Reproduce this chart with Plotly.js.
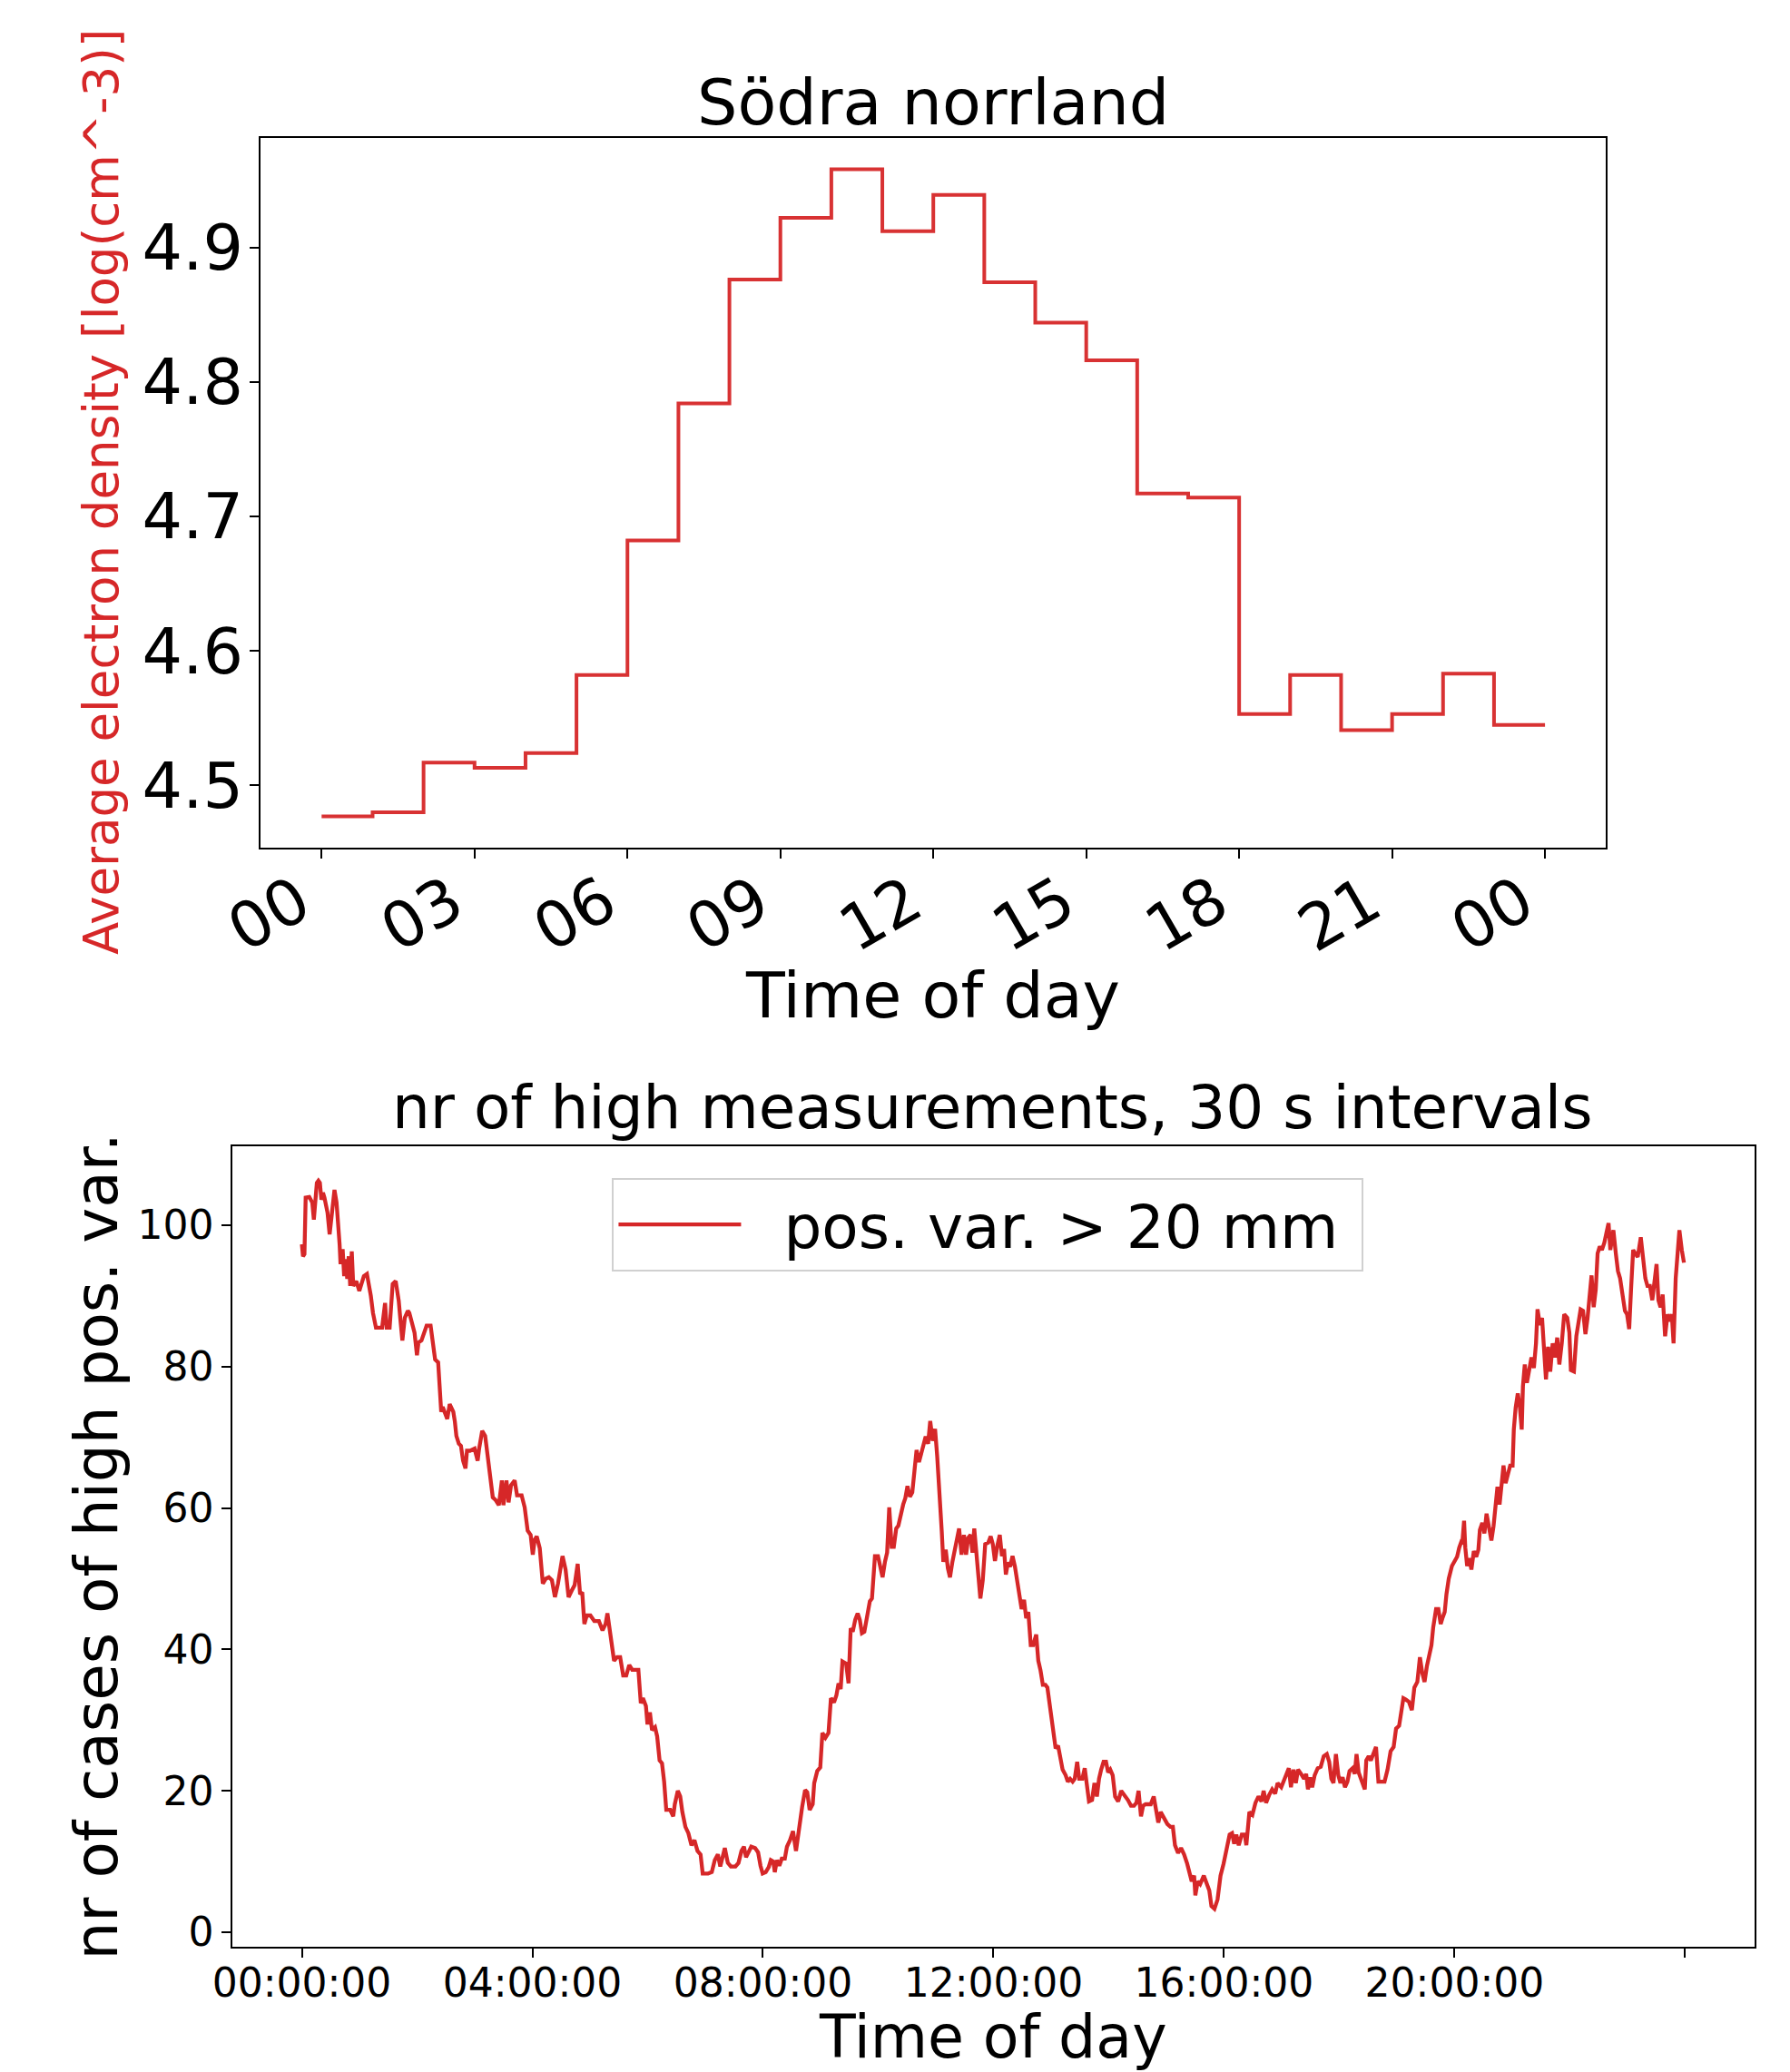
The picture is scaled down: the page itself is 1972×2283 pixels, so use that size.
<!DOCTYPE html>
<html><head><meta charset="utf-8">
<script src="https://cdn.plot.ly/plotly-3.0.1.min.js"></script>
<style>html,body{margin:0;padding:0;background:#fff}</style>
</head><body>
<div id="chart" style="width:1972px;height:2283px"></div>
<script>
// ---- Top panel: hourly average electron density ----
const densityHours = [0,1,2,3,4,5,6,7,8,9,10,11,12,13,14,15,16,17,18,19,20,21,22,23];
const densityValues = [4.477,4.480,4.517,4.513,4.524,4.582,4.682,4.784,4.876,4.922,4.958,4.912,4.939,4.874,4.844,4.816,4.717,4.714,4.553,4.582,4.541,4.553,4.583,4.545];
const densityDayEnd = 24;
const topTickVals = [0,3,6,9,12,15,18,21,24];
const topTickText = ['00','03','06','09','12','15','18','21','00'];
const topYTicks = [4.5,4.6,4.7,4.8,4.9];

// ---- Bottom panel: nr of high position-variance cases (time in hours) ----
const countTimes = [
0.000,0.020,0.045,0.066,0.129,0.181,0.208,0.234,0.260,0.287,0.313,0.339,0.366,0.392,0.418,0.445,0.482,0.513,0.566,0.602,
0.629,0.655,0.671,0.708,0.734,0.760,0.787,0.813,0.839,0.866,0.892,0.944,0.997,1.023,1.076,1.129,1.165,1.197,1.234,1.286,
1.339,1.392,1.444,1.471,1.523,1.576,1.628,1.681,1.707,1.744,1.786,1.839,1.865,1.918,1.955,1.997,2.023,2.076,2.129,2.165,
2.234,2.286,2.312,2.365,2.392,2.418,2.444,2.497,2.523,2.565,2.628,2.655,2.681,2.723,2.760,2.797,2.839,2.865,2.918,2.997,
3.050,3.076,3.129,3.181,3.234,3.271,3.313,3.365,3.418,3.471,3.497,3.550,3.587,3.629,3.692,3.734,3.813,3.866,
3.918,3.970,4.007,4.039,4.075,4.128,4.181,4.233,4.286,4.339,4.391,4.444,4.523,4.576,4.628,4.681,4.733,4.786,4.828,4.865,
4.902,4.944,5.007,5.075,5.154,5.217,5.270,5.302,5.338,5.375,5.417,5.470,5.523,5.576,5.628,5.681,5.733,5.839,5.881,5.918,
5.970,5.997,6.039,6.075,6.128,6.165,6.207,6.249,6.286,6.323,6.392,6.444,6.471,6.523,6.565,6.602,6.655,6.707,6.760,6.812,
6.865,6.918,6.955,7.049,7.113,7.165,7.218,7.260,7.302,7.339,7.391,7.444,7.523,7.576,7.628,7.671,7.707,7.760,7.797,7.865,
7.916,7.958,7.995,8.048,8.100,8.137,8.179,8.206,8.243,8.285,8.327,8.380,8.417,8.469,8.522,8.574,8.627,8.680,8.732,8.769,
8.811,8.864,8.890,8.943,8.995,9.032,9.085,9.138,9.180,9.233,9.275,9.312,9.349,9.380,9.444,9.486,9.523,9.559,9.602,9.644,
9.681,9.718,9.760,9.813,9.855,9.892,9.944,9.997,10.039,10.076,10.118,10.155,10.192,10.234,10.271,10.313,10.350,10.392,10.434,10.471,
10.508,10.550,10.592,10.629,10.666,10.708,10.750,10.787,10.824,10.866,10.903,10.945,10.987,11.024,11.050,11.077,11.103,11.130,11.172,11.209,
11.246,11.288,11.330,11.367,11.404,11.446,11.488,11.525,11.562,11.604,11.636,11.667,11.699,11.736,11.773,11.815,11.857,
11.910,11.952,11.989,12.026,12.068,12.110,12.147,12.184,12.215,12.252,12.289,12.331,12.373,12.410,12.447,12.489,12.531,12.568,12.605,12.647,
12.689,12.742,12.778,12.815,12.857,12.900,12.936,12.963,13.005,13.042,13.079,13.121,13.163,13.200,13.253,13.290,13.331,13.374,13.410,13.453,
13.489,13.542,13.584,13.621,13.658,13.711,13.753,13.795,13.832,13.869,13.911,13.953,13.990,14.027,14.069,14.111,14.164,14.217,14.254,14.291,
14.333,14.386,14.439,14.481,14.518,14.560,14.597,14.639,14.729,14.781,14.818,14.860,14.902,14.955,15.018,15.071,15.113,15.150,15.203,15.255,
15.308,15.361,15.398,15.440,15.482,15.503,15.545,15.587,15.650,15.693,15.745,15.782,15.835,
15.888,15.940,15.993,16.046,16.098,16.140,16.177,16.214,16.256,16.309,16.362,16.388,16.441,16.493,16.546,16.599,16.651,16.688,16.730,16.783,
16.836,16.888,16.930,16.994,17.036,17.088,17.125,17.162,17.204,17.247,17.284,17.336,17.389,17.426,17.457,17.494,17.531,17.573,17.626,17.679,
17.731,17.784,17.826,17.863,17.900,17.942,17.984,18.021,18.058,18.100,18.142,18.179,18.232,18.269,18.300,18.337,18.390,18.443,18.469,18.511,
18.548,18.601,18.638,18.680,18.786,18.838,18.891,18.944,18.986,19.039,19.076,19.113,19.155,19.208,19.260,19.303,19.355,
19.400,19.440,19.480,19.520,19.560,19.600,19.630,19.680,19.720,19.760,19.790,19.830,19.860,19.900,
19.955,19.992,20.045,20.082,20.113,20.134,20.166,20.187,20.219,20.256,20.293,20.335,20.377,20.414,20.440,20.482,20.519,20.556,20.598,20.640,
20.677,20.714,20.745,20.782,20.819,20.850,20.887,20.924,20.966,21.008,21.029,21.061,21.098,21.135,21.166,21.187,21.219,21.256,21.293,21.335,
21.377,21.414,21.440,21.482,21.519,21.556,21.587,21.624,21.661,21.703,21.745,21.782,21.819,21.861,21.903,21.956,21.993,22.019,22.072,22.114,
22.151,22.188,22.230,22.272,22.309,22.346,22.378,22.415,22.451,22.483,22.520,22.557,22.599,22.641,22.673,22.704,22.757,22.799,22.836,22.873,
22.915,22.957,22.994,23.031,23.063,23.100,23.137,23.179,23.232,23.274,23.311,23.348,23.390,23.432,23.469,23.506,23.538,23.575,23.612,23.654,
23.696,23.733,23.770,23.801,23.838,23.865,23.902,23.944,23.981];
const countValues = [
97.3,95.6,95.9,103.9,104.0,103.2,100.8,103.2,106.0,106.3,106.0,103.6,104.6,103.9,102.5,101.8,98.7,100.8,105.0,103.2,
100.8,97.3,94.5,96.6,92.8,95.2,92.4,95.6,91.4,96.3,91.4,92.1,90.7,91.4,92.8,93.1,91.7,90.0,87.6,85.5,
85.5,85.5,89.0,85.5,85.5,91.7,92.1,89.3,86.9,83.7,86.9,87.9,87.6,86.2,84.8,81.6,83.4,83.7,84.8,85.8,
85.8,82.7,81.0,80.6,77.1,73.6,74.3,72.9,72.6,74.7,73.6,72.2,70.2,69.1,68.8,66.7,65.6,68.1,68.1,68.4,
66.7,68.4,70.9,70.2,66.7,63.2,61.5,61.1,60.4,63.9,60.4,63.9,60.8,63.2,63.9,61.8,61.8,60.1,
56.8,56.2,53.4,55.5,56.0,54.3,49.3,50.0,50.2,49.8,47.4,49.3,53.2,51.3,47.4,48.3,49.1,52.1,47.8,48.1,
43.6,44.8,44.8,44.0,44.0,42.7,43.6,45.1,42.7,41.2,38.4,38.9,38.9,36.3,36.3,37.8,37.1,37.1,32.4,33.1,
32.0,29.4,31.1,28.6,29.0,27.7,24.3,23.9,21.3,17.3,17.3,16.4,18.1,20.0,19.2,17.0,14.9,14.0,12.3,13.0,
11.5,11.0,8.3,8.3,8.5,10.2,11.0,9.3,10.6,11.9,9.8,9.3,9.3,9.8,11.5,12.1,10.6,11.5,12.1,11.9,
11.3,9.4,8.3,8.5,9.2,10.2,10.0,8.5,10.2,9.4,10.4,10.4,12.1,13.0,14.3,11.5,15.1,17.7,20.1,19.8,
17.3,18.1,21.1,22.8,23.3,28.2,27.5,28.2,33.1,32.5,33.5,35.2,34.4,38.3,38.0,35.2,43.0,42.5,44.2,45.1,
44.2,42.3,42.5,44.7,46.8,47.2,53.2,53.2,51.5,50.2,52.4,53.7,60.1,54.5,54.5,57.1,57.5,59.2,60.5,61.4,
63.1,61.6,62.2,65.2,68.2,66.5,67.8,69.1,70.1,69.1,72.3,69.5,71.2,67.3,64.3,60.9,56.7,52.4,54.1,51.5,
50.2,52.4,54.1,56.2,57.1,53.4,56.2,53.4,55.8,56.2,53.7,57.1,53.7,50.7,47.2,49.8,54.9,
55.1,56.0,54.9,52.5,54.7,56.2,53.2,54.2,50.6,52.3,51.7,53.2,51.7,50.0,48.3,45.7,47.0,44.4,45.3,40.6,
40.6,42.1,38.4,37.1,35.0,35.0,34.6,32.9,31.1,27.7,26.0,26.4,24.3,23.0,22.2,21.3,21.7,21.3,21.7,24.1,
21.7,21.7,23.2,20.9,18.5,18.7,21.1,19.2,21.7,23.0,24.1,24.1,22.6,23.0,22.2,19.2,18.5,20.0,19.6,19.2,
18.7,17.9,17.9,18.3,20.0,16.4,17.9,18.1,18.1,19.2,17.2,15.5,17.0,16.2,15.3,14.9,14.9,12.3,11.2,11.9,
11.0,9.7,8.5,7.2,8.0,5.2,7.2,6.8,8.0,7.2,5.9,3.7,3.3,
4.6,8.0,9.7,11.9,13.8,14.0,12.5,13.8,12.3,13.8,13.8,12.3,17.0,16.6,18.3,19.2,18.5,20.0,18.3,19.4,
20.2,19.6,21.1,20.5,21.5,22.4,23.2,20.5,23.0,21.1,23.0,22.4,21.7,22.4,20.2,21.9,20.5,22.2,23.2,23.4,
24.9,25.2,24.1,21.7,21.1,25.2,22.2,21.1,21.9,20.5,21.3,22.8,23.2,22.4,25.2,22.6,21.5,20.2,24.3,24.9,
24.3,25.4,26.2,21.3,21.3,23.0,25.6,26.2,28.8,29.2,30.9,33.1,32.9,32.6,31.4,34.6,35.4,
38.9,36.7,35.4,37.6,39.3,40.6,43.1,45.7,45.7,43.6,44.4,45.3,47.8,50.0,
51.8,52.3,53.1,54.4,55.1,54.9,58.2,54.4,51.8,52.9,51.3,53.9,53.1,54.1,56.9,57.9,56.4,59.2,56.9,55.4,
57.4,60.0,63.0,60.5,63.0,66.0,63.5,64.5,66.0,66.0,71.1,74.2,76.2,74.2,71.1,77.2,80.3,77.7,79.3,81.3,
79.8,83.3,88.1,85.9,86.9,82.3,78.2,82.8,79.3,83.3,81.3,84.1,80.3,83.3,87.4,86.9,84.8,79.5,79.3,84.3,
85.9,88.1,87.9,84.6,86.9,89.9,92.9,88.4,90.9,96.0,97.0,96.5,97.5,99.1,100.3,96.5,99.3,96.0,93.5,92.5,
89.9,87.9,87.4,85.3,90.9,96.5,96.0,95.5,98.3,95.5,92.5,91.4,91.4,89.4,92.5,94.5,89.4,88.4,90.2,84.3,
87.4,86.4,87.4,83.3,92.5,95.0,99.3,96.5,94.7];
const bottomTickVals = [0,4,8,12,16,20,24];
const bottomTickText = ['00:00:00','04:00:00','08:00:00','12:00:00','16:00:00','20:00:00',''];
const bottomYTicks = [0,20,40,60,80,100];
const seriesName = 'pos. var. > 20 mm';

const RED = '#d62728';
const FONT = 'DejaVu Sans, sans-serif';

// step line: each hourly value holds until the next hour; last holds to day end
const stepX = densityHours.concat([densityDayEnd]);
const stepY = densityValues.concat([densityValues[densityValues.length - 1]]);

const traces = [
  {x: stepX, y: stepY, type: 'scatter', mode: 'lines', line: {shape: 'hv', color: RED, width: 4},
   xaxis: 'x', yaxis: 'y', showlegend: false, opacity: 0.95},
  {x: countTimes, y: countValues, type: 'scatter', mode: 'lines', name: '\u00a0\u00a0' + seriesName + '\u00a0',
   line: {color: RED, width: 4.3}, xaxis: 'x2', yaxis: 'y2', showlegend: true}
];

const axisCommon = {showgrid: false, zeroline: false, showline: true, mirror: true, linecolor: '#000', linewidth: 2,
  ticks: 'outside', ticklen: 10, tickwidth: 2, tickcolor: '#000', tickmode: 'array'};

const layout = {
  width: 1972, height: 2283, margin: {l: 0, r: 0, t: 0, b: 0},
  paper_bgcolor: '#fff', plot_bgcolor: '#fff',
  font: {family: FONT, color: '#000'},
  showlegend: true,
  legend: {x: 0.342, y: 0.4316, xanchor: 'left', yanchor: 'top', bgcolor: '#fff', bordercolor: '#d0d0d0', borderwidth: 2,
           font: {size: 66, family: FONT}, itemwidth: 135},
  xaxis: Object.assign({}, axisCommon, {domain: [0.1455, 0.8973], range: [-1.2, 25.2], anchor: 'y',
     tickvals: topTickVals, ticktext: topTickText, tickangle: -30, tickfont: {size: 70, family: FONT},
     ticklabelstandoff: -19, ticklabelshift: -25}),
  yaxis: Object.assign({}, axisCommon, {domain: [0.5911, 0.9336], range: [4.454, 4.9816], anchor: 'x',
     tickvals: topYTicks, ticktext: topYTicks.map(v => v.toFixed(1)), tickfont: {size: 70, family: FONT},
     ticklabelstandoff: -7}),
  xaxis2: Object.assign({}, axisCommon, {domain: [0.1300, 0.9800], range: [-1.2, 25.2], anchor: 'y2',
     tickvals: bottomTickVals, ticktext: bottomTickText, tickangle: 0, tickfont: {size: 44, family: FONT},
     ticklabelstandoff: -10}),
  yaxis2: Object.assign({}, axisCommon, {domain: [0.0603, 0.4469], range: [-2.1, 111.2], anchor: 'x2',
     tickvals: bottomYTicks, ticktext: bottomYTicks.map(String), tickfont: {size: 44, family: FONT}}),
  annotations: [
    {text: 'Södra norrland', xref: 'paper', yref: 'paper', x: 0.5213, y: 0.9505, xanchor: 'center', yanchor: 'middle',
     showarrow: false, font: {size: 70, family: FONT}},
    {text: 'Time of day', xref: 'paper', yref: 'paper', x: 0.521, y: 0.5195, xanchor: 'center', yanchor: 'middle',
     showarrow: false, font: {size: 70, family: FONT}},
    {text: 'Average electron density [log(cm^-3)]', xref: 'paper', yref: 'paper', x: 0.0568, y: 0.7626,
     xanchor: 'center', yanchor: 'middle', textangle: -90, showarrow: false, font: {size: 53, family: FONT, color: RED}},
    {text: 'nr of high measurements, 30 s intervals', xref: 'paper', yref: 'paper', x: 0.5547, y: 0.4652,
     xanchor: 'center', yanchor: 'middle', showarrow: false, font: {size: 66, family: FONT}},
    {text: 'Time of day', xref: 'paper', yref: 'paper', x: 0.5547, y: 0.0170, xanchor: 'center', yanchor: 'middle',
     showarrow: false, font: {size: 65, family: FONT}},
    {text: 'nr of cases of high pos. var.', xref: 'paper', yref: 'paper', x: 0.0540, y: 0.2536,
     xanchor: 'center', yanchor: 'middle', textangle: -90, showarrow: false, font: {size: 66, family: FONT}}
  ]
};

Plotly.newPlot('chart', traces, layout, {staticPlot: true, displayModeBar: false});
</script>
</body></html>
